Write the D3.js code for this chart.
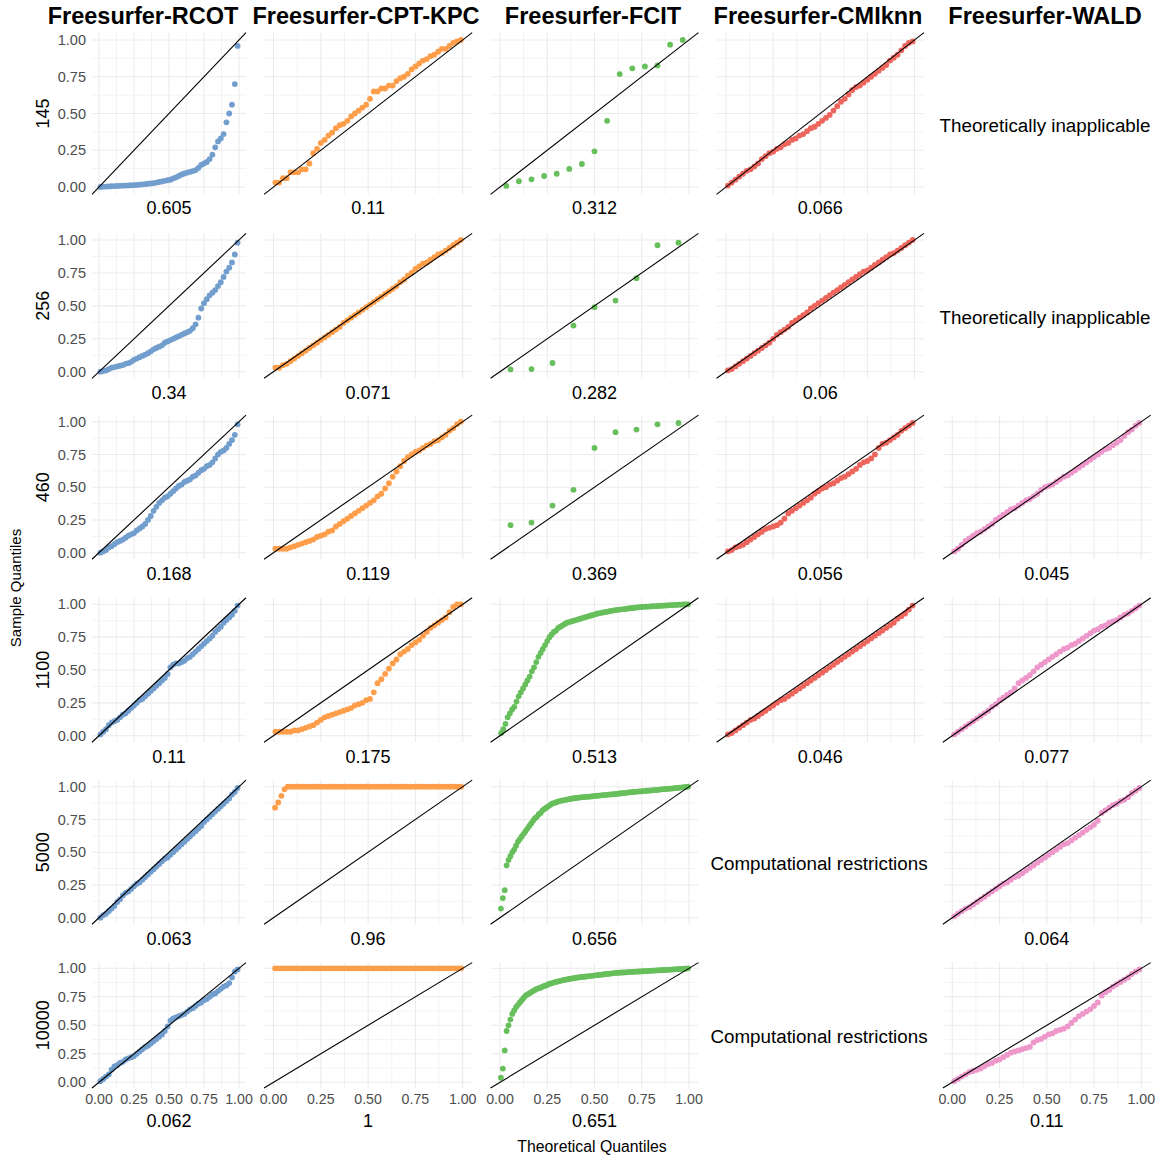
<!DOCTYPE html>
<html>
<head>
<meta charset="utf-8">
<script src="https://cdn.jsdelivr.net/npm/d3@7"></script>
<style>
  body { margin: 0; background: #fff; }
  text { font-family: "Liberation Sans", Arial, sans-serif; }
</style>
</head>
<body>
<div id="chart"></div>
<script>

const methods = ['Freesurfer-RCOT', 'Freesurfer-CPT-KPC', 'Freesurfer-FCIT', 'Freesurfer-CMIknn', 'Freesurfer-WALD'];
const sizes = ['145', '256', '460', '1100', '5000', '10000'];
const ticks = [0, 0.25, 0.5, 0.75, 1];
const minorTicks = [0.125, 0.375, 0.625, 0.875];

const rcotStats = ['0.605', '0.34', '0.168', '0.11', '0.063', '0.062'];
const kpcStats = ['0.11', '0.071', '0.119', '0.175', '0.96', '1'];
const fcitStats = ['0.312', '0.282', '0.369', '0.513', '0.656', '0.651'];
const cmiStats = ['0.066', '0.06', '0.056', '0.046', null, null];
const waldStats = [null, null, '0.045', '0.077', '0.064', '0.11'];

// sorted sample p-values, theoretical quantiles come from their count
const rcot145 = [0,.002,.003,.004,.005,.006,.007,.008,.009,.01,.011,.012,.013,.014,.016,.018,.02,.022,.024,.027,.03,.034,.038,.042,.046,.05,.058,.066,.075,.085,.092,.098,.103,.108,.115,.13,.15,.16,.17,.19,.22,.27,.31,.33,.36,.44,.5,.56,.7,.96];
const rcot256 = [0,.005,.01,.02,.03,.035,.04,.045,.05,.06,.065,.075,.09,.1,.11,.12,.13,.14,.155,.17,.18,.19,.2,.22,.23,.24,.25,.26,.27,.28,.29,.3,.31,.33,.36,.41,.48,.52,.55,.58,.6,.62,.65,.68,.72,.76,.79,.83,.89,.98];
const rcot460 = [0,.01,.02,.04,.05,.065,.08,.09,.1,.115,.13,.14,.15,.17,.185,.2,.22,.25,.28,.32,.35,.38,.4,.42,.43,.45,.47,.49,.51,.52,.54,.55,.56,.58,.59,.61,.63,.64,.66,.67,.69,.72,.75,.77,.78,.8,.83,.86,.9,.98];
const rcot1100 = [.01,.03,.05,.08,.1,.11,.12,.14,.16,.17,.19,.21,.23,.25,.27,.28,.3,.32,.34,.36,.38,.4,.42,.44,.47,.52,.54,.55,.55,.56,.57,.59,.6,.62,.64,.66,.68,.7,.72,.74,.76,.79,.81,.83,.86,.88,.9,.92,.95,.99];
const rcot5000 = [0,.02,.03,.05,.07,.09,.12,.14,.17,.19,.2,.22,.24,.26,.27,.29,.31,.33,.35,.37,.39,.41,.43,.45,.46,.48,.5,.52,.54,.56,.58,.6,.62,.64,.66,.68,.7,.73,.75,.77,.79,.81,.83,.85,.87,.89,.91,.94,.96,.99];
const rcot10000 = [.01,.03,.05,.07,.11,.14,.15,.17,.18,.2,.21,.22,.23,.25,.27,.29,.31,.32,.34,.36,.38,.4,.42,.45,.49,.54,.56,.57,.58,.59,.6,.62,.64,.65,.67,.69,.7,.72,.73,.75,.77,.78,.8,.82,.84,.85,.87,.92,.97,.99];

const kpc145 = [.03,.03,.06,.06,.1,.1,.1,.12,.12,.16,.23,.26,.3,.32,.35,.37,.4,.42,.43,.45,.48,.5,.52,.54,.56,.6,.65,.65,.67,.67,.69,.69,.72,.74,.75,.77,.8,.82,.84,.86,.87,.89,.9,.92,.94,.94,.96,.98,.99,1];
const kpc256 = [.03,.03,.05,.06,.08,.1,.12,.14,.16,.18,.2,.22,.24,.26,.28,.3,.32,.34,.37,.39,.41,.43,.45,.47,.49,.51,.53,.55,.57,.59,.61,.63,.65,.68,.7,.73,.75,.78,.8,.82,.83,.85,.87,.89,.9,.92,.94,.96,.98,1];
const kpc460 = [.03,.03,.03,.03,.04,.05,.06,.07,.08,.09,.1,.12,.13,.14,.16,.17,.2,.22,.24,.26,.28,.3,.32,.34,.36,.38,.4,.43,.45,.49,.53,.58,.62,.66,.7,.73,.75,.77,.78,.8,.82,.83,.85,.86,.88,.9,.93,.95,.98,1];
const kpc1100 = [.03,.03,.03,.03,.03,.04,.04,.05,.06,.07,.08,.1,.12,.14,.15,.16,.17,.18,.19,.2,.21,.23,.24,.25,.27,.28,.33,.4,.43,.47,.51,.55,.58,.62,.64,.66,.69,.71,.73,.76,.79,.82,.84,.86,.88,.9,.94,.98,1,1];
const kpc5000 = [.84,.88,.93,.98,1,1,1,1,1,1,1,1,1,1,1,1,1,1,1,1,1,1,1,1,1,1,1,1,1,1,1,1,1,1,1,1,1,1,1,1,1,1,1,1,1,1,1,1,1,1,1,1,1,1,1,1,1,1,1,1];
const kpc10000 = [1,1,1,1,1,1,1,1,1,1,1,1,1,1,1,1,1,1,1,1,1,1,1,1,1,1,1,1,1,1,1,1,1,1,1,1,1,1,1,1,1,1,1,1,1,1,1,1,1,1,1,1,1,1,1,1,1,1,1,1];

const fcit145 = [.007,.039,.052,.075,.09,.123,.157,.243,.45,.768,.807,.82,.827,.968,1];
const fcit256 = [.017,.02,.066,.35,.49,.54,.71,.96,.98];
const fcit460 = [.21,.23,.36,.48,.8,.92,.94,.98,.99];
const fcit1100 = [.02,.05,.09,.14,.17,.2,.22,.26,.3,.33,.36,.39,.42,.45,.49,.52,.56,.6,.63,.66,.69,.72,.75,.77,.79,.8,.82,.83,.84,.85,.86,.865,.87,.875,.88,.885,.89,.895,.9,.905,.91,.915,.92,.925,.93,.933,.936,.94,.943,.946,.95,.952,.955,.958,.96,.962,.964,.966,.968,.97,.972,.974,.976,.978,.98,.981,.982,.983,.984,.985,.986,.987,.988,.989,.99,.991,.992,.993,.994,.995,.996,.997,.998,.999,1,1];
const fcit5000 = [.07,.15,.21,.4,.44,.47,.5,.52,.55,.58,.6,.62,.64,.66,.68,.7,.72,.74,.76,.77,.79,.8,.82,.83,.84,.85,.86,.87,.875,.88,.885,.89,.893,.896,.9,.902,.905,.908,.91,.912,.914,.916,.918,.92,.921,.922,.924,.925,.926,.928,.93,.931,.932,.934,.935,.936,.938,.94,.941,.942,.944,.945,.947,.948,.95,.951,.953,.955,.956,.958,.96,.961,.963,.964,.965,.966,.968,.969,.97,.971,.972,.974,.975,.976,.978,.98,.981,.982,.983,.985,.986,.987,.989,.99,.992,.993,.995,.997,.998,1];
const fcit10000 = [.04,.12,.28,.45,.5,.55,.6,.63,.66,.68,.7,.72,.74,.76,.77,.78,.79,.8,.81,.82,.825,.83,.84,.845,.85,.86,.865,.87,.875,.88,.884,.888,.892,.896,.9,.903,.906,.909,.912,.915,.918,.92,.922,.924,.926,.928,.93,.932,.934,.936,.938,.94,.942,.944,.946,.948,.95,.952,.954,.956,.958,.96,.961,.962,.963,.964,.965,.966,.967,.968,.969,.97,.971,.972,.973,.974,.975,.976,.977,.978,.979,.98,.981,.982,.983,.984,.985,.986,.987,.988,.989,.99,.991,.992,.993,.994,.995,.996,.998,1];

const cmi145 = [.01,.03,.05,.07,.09,.11,.12,.14,.16,.19,.21,.23,.24,.26,.27,.29,.3,.32,.33,.35,.36,.38,.4,.41,.43,.45,.47,.49,.52,.55,.58,.6,.63,.66,.68,.69,.71,.73,.75,.77,.79,.81,.83,.86,.88,.9,.93,.96,.98,.99];
const cmi256 = [.01,.02,.04,.06,.08,.1,.12,.14,.16,.18,.2,.22,.25,.28,.3,.32,.34,.37,.39,.41,.43,.45,.48,.5,.52,.54,.56,.58,.6,.62,.64,.66,.68,.7,.72,.74,.76,.77,.79,.81,.83,.85,.87,.89,.9,.92,.94,.96,.98,1];
const cmi460 = [.01,.02,.04,.05,.06,.08,.1,.12,.14,.16,.18,.19,.2,.21,.23,.26,.3,.32,.34,.36,.38,.4,.42,.45,.47,.49,.5,.52,.53,.55,.57,.58,.6,.62,.64,.67,.69,.7,.72,.75,.8,.83,.84,.86,.88,.9,.93,.95,.97,.99];
const cmi1100 = [.01,.02,.04,.06,.08,.1,.12,.13,.15,.17,.19,.21,.23,.25,.27,.28,.3,.32,.34,.36,.38,.4,.42,.44,.46,.48,.5,.52,.54,.56,.58,.6,.62,.64,.66,.68,.7,.72,.74,.76,.78,.8,.82,.84,.86,.89,.91,.93,.96,.99];

const wald460 = [.01,.03,.06,.09,.11,.13,.15,.16,.18,.2,.22,.25,.27,.29,.31,.33,.34,.36,.38,.4,.41,.43,.45,.48,.5,.51,.52,.54,.56,.58,.59,.61,.63,.65,.67,.69,.71,.73,.75,.77,.79,.8,.82,.84,.86,.89,.92,.94,.97,.99];
const wald1100 = [.01,.03,.05,.07,.09,.11,.13,.15,.17,.19,.22,.24,.27,.29,.31,.33,.36,.4,.42,.44,.46,.49,.52,.54,.56,.58,.6,.62,.64,.66,.67,.69,.7,.72,.74,.76,.78,.8,.81,.83,.84,.86,.87,.88,.9,.92,.93,.95,.97,.99];
const wald5000 = [.01,.03,.05,.07,.08,.1,.12,.14,.16,.18,.2,.22,.24,.26,.27,.29,.31,.32,.34,.36,.38,.4,.42,.44,.46,.48,.5,.52,.54,.56,.57,.59,.61,.63,.65,.67,.69,.71,.74,.8,.82,.84,.86,.87,.89,.9,.92,.95,.97,.99];
const wald10000 = [.01,.03,.05,.07,.09,.1,.11,.12,.14,.16,.17,.19,.2,.22,.24,.26,.27,.28,.29,.3,.31,.35,.37,.38,.4,.42,.43,.45,.46,.47,.49,.52,.55,.58,.6,.62,.64,.67,.7,.76,.79,.81,.84,.86,.88,.9,.92,.95,.97,.99];

const samples = [
  [rcot145, kpc145, fcit145, cmi145, null],
  [rcot256, kpc256, fcit256, cmi256, null],
  [rcot460, kpc460, fcit460, cmi460, wald460],
  [rcot1100, kpc1100, fcit1100, cmi1100, wald1100],
  [rcot5000, kpc5000, fcit5000, null, wald5000],
  [rcot10000, kpc10000, fcit10000, null, wald10000]
];
const statCols = [rcotStats, kpcStats, fcitStats, cmiStats, waldStats];
const colors = ['#729ECE', '#FF9E4A', '#67BF5C', '#ED665D', '#ED97CA'];

const w = 1163;
const h = 1160;
const colLeft = [99, 273.5, 500, 726, 952.3];
const colRight = [239, 462.7, 689, 914.5, 1141.3];
const rowTop = [40, 240, 421.7, 604.3, 786.7, 968.3];
const rowBottom = [187, 371.7, 552.7, 735.7, 917.7, 1082.3];
const titleX = [143, 366, 593, 818, 1045];

const svg = d3.select('#chart')
  .append('svg')
  .attr('width', w)
  .attr('height', h);

methods.forEach((m, c) => {
  svg.append('text')
    .attr('x', titleX[c])
    .attr('y', 24)
    .attr('text-anchor', 'middle')
    .style('font-size', '23.5px')
    .style('font-weight', 'bold')
    .text(m);
});

sizes.forEach((size, r) => {
  const yScale = d3.scaleLinear().domain([0, 1]).range([rowBottom[r], rowTop[r]]);

  svg.append('text')
    .attr('transform', 'translate(49,' + yScale(0.5) + ') rotate(-90)')
    .attr('text-anchor', 'middle')
    .style('font-size', '18px')
    .text(size);

  methods.forEach((m, c) => {
    const xScale = d3.scaleLinear().domain([0, 1]).range([colLeft[c], colRight[c]]);
    const data = samples[r][c];

    if (!data) {
      const cx = c === 4 ? 1045 : 819;
      const msg = c === 4 ? 'Theoretically inapplicable' : 'Computational restrictions';
      svg.append('text')
        .attr('x', cx)
        .attr('y', yScale(0.5) + 18)
        .attr('text-anchor', 'middle')
        .style('font-size', '18.8px')
        .text(msg);
      return;
    }

    const g = svg.append('g');
    const x0 = xScale(-0.05), x1 = xScale(1.05);
    const y0 = yScale(-0.05), y1 = yScale(1.05);

    g.selectAll('.minor-x')
      .data(minorTicks)
      .enter().append('line')
      .attr('x1', d => xScale(d)).attr('x2', d => xScale(d))
      .attr('y1', y0).attr('y2', y1)
      .attr('stroke', '#EBEBEB').attr('stroke-width', 0.6);
    g.selectAll('.minor-y')
      .data(minorTicks)
      .enter().append('line')
      .attr('y1', d => yScale(d)).attr('y2', d => yScale(d))
      .attr('x1', x0).attr('x2', x1)
      .attr('stroke', '#EBEBEB').attr('stroke-width', 0.6);
    g.selectAll('.major-x')
      .data(ticks)
      .enter().append('line')
      .attr('x1', d => xScale(d)).attr('x2', d => xScale(d))
      .attr('y1', y0).attr('y2', y1)
      .attr('stroke', '#EBEBEB').attr('stroke-width', 1.1);
    g.selectAll('.major-y')
      .data(ticks)
      .enter().append('line')
      .attr('y1', d => yScale(d)).attr('y2', d => yScale(d))
      .attr('x1', x0).attr('x2', x1)
      .attr('stroke', '#EBEBEB').attr('stroke-width', 1.1);

    const n = data.length;
    g.selectAll('circle')
      .data(data)
      .enter().append('circle')
      .attr('cx', (d, i) => xScale((i + 0.5) / n))
      .attr('cy', d => yScale(d))
      .attr('r', 2.9)
      .attr('fill', colors[c]);

    g.append('line')
      .attr('x1', x0).attr('y1', y0)
      .attr('x2', x1).attr('y2', y1)
      .attr('stroke', 'black')
      .attr('stroke-width', 1.1);

    if (c === 0) {
      g.selectAll('.ytick')
        .data(ticks)
        .enter().append('text')
        .attr('x', 86)
        .attr('y', d => yScale(d))
        .attr('dy', '0.35em')
        .attr('text-anchor', 'end')
        .style('font-size', '14.5px')
        .style('fill', '#4D4D4D')
        .text(d => d3.format('.2f')(d));
    }

    const last = r === sizes.length - 1;
    if (last) {
      g.selectAll('.xtick')
        .data(ticks)
        .enter().append('text')
        .attr('x', d => xScale(d))
        .attr('y', 1104)
        .attr('text-anchor', 'middle')
        .style('font-size', '14.2px')
        .style('fill', '#4D4D4D')
        .text(d => d3.format('.2f')(d));
    }

    g.append('text')
      .attr('x', xScale(0.5))
      .attr('y', last ? 1127 : rowBottom[r] + 27)
      .attr('text-anchor', 'middle')
      .style('font-size', '18px')
      .text(statCols[c][r]);
  });
});

svg.append('text')
  .attr('transform', 'translate(21,588) rotate(-90)')
  .attr('text-anchor', 'middle')
  .style('font-size', '15px')
  .text('Sample Quantiles');

svg.append('text')
  .attr('x', 592)
  .attr('y', 1152)
  .attr('text-anchor', 'middle')
  .style('font-size', '15.8px')
  .text('Theoretical Quantiles');

</script>
</body>
</html>
